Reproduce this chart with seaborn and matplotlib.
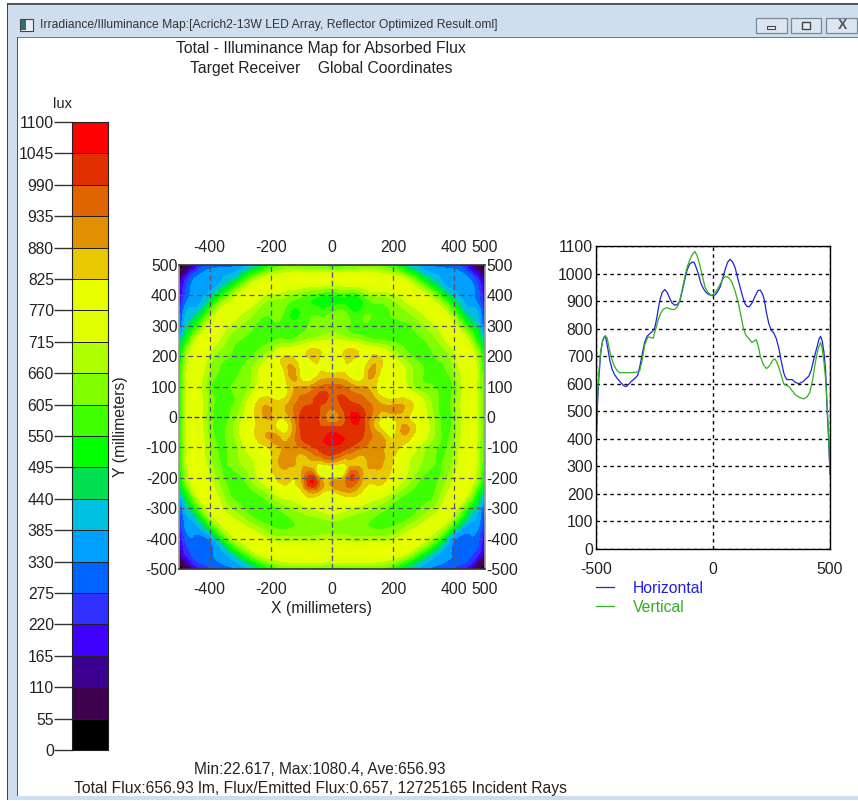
import numpy as np
import pandas as pd
import matplotlib
matplotlib.use("Agg")
import matplotlib.pyplot as plt
import matplotlib.tri as mtri
from matplotlib.colors import ListedColormap, BoundaryNorm
from matplotlib.patches import Rectangle
from matplotlib.transforms import ScaledTranslation
import seaborn as sns

# colour scale
scale_ticks = list(range(0, 1101, 55))
scale_colors = ["#000000", "#400050", "#3c0090", "#4000ff", "#3030ff", "#0064ff", "#00a0ff",
                "#00c0e0", "#00e050", "#00ff00", "#40ff00", "#80ff00", "#b0ff00", "#e0ff00",
                "#e8ff00", "#e8c800", "#e09000", "#e06400", "#e03000", "#ff0000"]

# map readings, top row first
map_x = [-500, -480, -450, -400, -350, -300, -250, -200, -150, -100, -50, 0, 50, 100, 150, 200, 250, 300, 350, 400, 450, 480, 500]
map_y = [500, 480, 450, 400, 350, 300, 250, 200, 150, 100, 50, 0, -50, -100, -150, -200, -250, -300, -350, -400, -450, -480, -500]
map_rows = [
    [25, 60, 150, 290, 300, 350, 420, 540, 600, 600, 580, 560, 580, 600, 600, 540, 420, 350, 300, 290, 150, 60, 25],
    [60, 110, 240, 340, 360, 400, 520, 640, 690, 700, 690, 680, 690, 700, 690, 640, 520, 400, 360, 340, 240, 110, 60],
    [110, 220, 340, 350, 400, 520, 700, 775, 770, 785, 780, 775, 780, 785, 770, 775, 700, 520, 400, 350, 340, 220, 110],
    [150, 280, 350, 410, 580, 750, 770, 700, 670, 620, 570, 550, 555, 600, 670, 700, 770, 750, 580, 410, 350, 280, 150],
    [200, 360, 400, 580, 760, 740, 670, 615, 590, 560, 580, 590, 580, 570, 590, 615, 670, 740, 760, 580, 400, 360, 200],
    [260, 420, 520, 750, 740, 660, 600, 585, 585, 590, 610, 630, 610, 590, 585, 585, 600, 660, 740, 750, 520, 420, 260],
    [420, 520, 700, 770, 670, 600, 585, 600, 620, 660, 710, 730, 710, 660, 620, 600, 585, 600, 670, 770, 700, 520, 420],
    [480, 640, 775, 700, 615, 585, 620, 720, 830, 800, 850, 775, 850, 800, 830, 720, 620, 585, 615, 700, 775, 640, 480],
    [520, 680, 770, 660, 590, 605, 690, 785, 850, 790, 810, 810, 810, 790, 850, 785, 690, 605, 590, 660, 770, 680, 520],
    [540, 680, 770, 620, 590, 620, 710, 790, 810, 880, 925, 950, 925, 880, 810, 790, 710, 620, 590, 620, 770, 680, 540],
    [550, 690, 775, 640, 590, 640, 810, 850, 860, 960, 1000, 960, 1000, 960, 880, 850, 840, 720, 600, 640, 775, 690, 550],
    [550, 690, 770, 630, 585, 690, 830, 880, 850, 1010, 1010, 900, 1015, 1015, 860, 840, 830, 740, 610, 630, 770, 690, 550],
    [550, 690, 775, 640, 600, 720, 830, 880, 820, 1000, 1020, 1045, 1030, 1000, 880, 800, 880, 760, 620, 640, 775, 690, 550],
    [540, 680, 775, 660, 600, 680, 780, 840, 890, 935, 1000, 1040, 1000, 935, 890, 850, 780, 680, 600, 660, 775, 680, 540],
    [520, 680, 775, 680, 600, 660, 720, 820, 900, 860, 850, 880, 850, 860, 900, 820, 720, 650, 600, 680, 775, 680, 520],
    [480, 640, 775, 720, 600, 590, 700, 790, 850, 880, 950, 840, 950, 880, 850, 790, 690, 590, 600, 720, 775, 640, 480],
    [420, 520, 700, 770, 640, 570, 600, 690, 770, 810, 870, 800, 870, 810, 770, 690, 600, 570, 640, 770, 700, 520, 420],
    [260, 400, 520, 750, 700, 620, 560, 580, 640, 690, 730, 740, 730, 690, 640, 580, 560, 620, 700, 750, 520, 400, 260],
    [200, 340, 380, 580, 750, 720, 640, 590, 590, 610, 625, 640, 625, 610, 590, 590, 640, 720, 750, 580, 380, 340, 200],
    [150, 280, 320, 345, 580, 750, 770, 700, 680, 680, 690, 700, 690, 680, 680, 700, 770, 750, 580, 345, 320, 280, 150],
    [110, 220, 290, 320, 380, 520, 700, 775, 785, 785, 775, 775, 775, 785, 785, 775, 700, 520, 380, 320, 290, 220, 110],
    [60, 110, 240, 300, 340, 400, 520, 640, 700, 710, 710, 700, 710, 710, 700, 640, 520, 400, 340, 300, 240, 110, 60],
    [25, 60, 150, 260, 290, 350, 420, 540, 600, 600, 580, 560, 580, 600, 600, 540, 420, 350, 290, 260, 150, 60, 25],
]
# extra readings for the small blobs
spot_x = [-25, 30, 75, -5, -135, 130, -70, 70, -130, 130, -35, 30, -70, 70, -210, 205, 235, -170, 170, -125, 85, -20, -25, 25, 0, 0, -175, 165]
spot_y = [60, 50, 0, -75, 145, 145, -185, -180, -140, -140, -190, -190, 215, 215, 0, 10, -40, -25, -30, 335, 355, 395, -25, -25, -25, 25, -70, -70]
spot_v = [1010, 1000, 1060, 1060, 900, 900, 960, 960, 900, 900, 770, 770, 850, 850, 885, 880, 900, 790, 790, 530, 530, 530, 970, 970, 960, 930, 890, 890]

# centre profiles
horiz_x = [-500, -498, -494, -488, -480, -472, -464, -458, -450, -440, -430, -420, -410, -395, -380, -371, -360, -350, -340, -330, -321, -312, -302, -292, -282, -270, -258, -249, -240, -228, -218, -206, -195, -185, -175, -163, -152, -142, -132, -120, -110, -99, -88, -80, -72, -63, -52, -41, -30, -20, -5, 8, 18, 30, 42, 52, 62, 73, 84, 95, 105, 116, 127, 137, 147, 156, 168, 180, 192, 202, 212, 219, 228, 238, 248, 259, 270, 281, 291, 302, 310, 317, 328, 338, 352, 367, 385, 400, 410, 420, 431, 445, 453, 460, 467, 474, 481, 488, 494, 500]
horiz_v = [270, 420, 520, 620, 710, 755, 772, 765, 730, 680, 650, 632, 620, 605, 592, 590, 598, 608, 615, 622, 632, 665, 710, 750, 772, 782, 790, 803, 840, 900, 930, 942, 930, 910, 893, 885, 888, 900, 935, 980, 1015, 1035, 1042, 1040, 1022, 1000, 965, 945, 932, 925, 920, 922, 932, 950, 985, 1015, 1040, 1052, 1042, 1020, 985, 950, 915, 890, 880, 880, 895, 918, 938, 940, 925, 905, 860, 820, 795, 785, 765, 730, 685, 640, 622, 615, 615, 615, 605, 600, 608, 620, 628, 650, 690, 735, 762, 772, 755, 715, 650, 500, 400, 270]
vert_x = [-500, -498, -494, -488, -480, -470, -460, -452, -444, -436, -425, -412, -400, -375, -350, -330, -314, -304, -292, -278, -266, -256, -246, -235, -224, -213, -202, -192, -178, -163, -152, -142, -132, -120, -110, -99, -88, -77, -68, -56, -45, -34, -20, -6, 8, 20, 30, 42, 54, 67, 80, 95, 109, 120, 130, 141, 152, 166, 176, 185, 194, 202, 215, 228, 236, 245, 255, 264, 272, 281, 292, 302, 312, 324, 338, 352, 370, 388, 402, 414, 426, 438, 450, 460, 467, 474, 481, 486, 494, 500]
vert_v = [270, 430, 540, 640, 720, 760, 775, 765, 730, 700, 670, 650, 640, 640, 640, 642, 645, 680, 740, 770, 768, 765, 795, 830, 855, 870, 875, 875, 870, 870, 880, 900, 940, 990, 1025, 1050, 1070, 1080, 1065, 1030, 990, 950, 930, 920, 930, 945, 960, 980, 990, 985, 970, 935, 890, 845, 800, 775, 765, 750, 755, 760, 735, 700, 670, 655, 660, 670, 685, 690, 680, 660, 630, 600, 595, 590, 575, 560, 550, 545, 552, 570, 615, 680, 730, 750, 725, 680, 620, 550, 420, 270]

map_ticks_x = [-400, -200, 0, 200, 400, 500]
map_ticks_y = [-500, -400, -300, -200, -100, 0, 100, 200, 300, 400, 500]

W, H = 858, 801
sns.set_style("white")
plt.rcParams["font.family"] = ["Liberation Sans", "DejaVu Sans"]
plt.rcParams["axes.unicode_minus"] = False
fig = plt.figure(figsize=(W / 100, H / 100), dpi=100, facecolor="white")


def axes_px(x0, y0, x1, y1):
    return fig.add_axes([x0 / W, 1 - y1 / H, (x1 - x0) / W, (y1 - y0) / H])


def box_px(x0, y0, x1, y1, **kw):
    fig.add_artist(Rectangle((x0 / W, 1 - y1 / H), (x1 - x0) / W, (y1 - y0) / H,
                             transform=fig.transFigure, zorder=-1, **kw))


def text_px(x, y, s, **kw):
    kw.setdefault("fontsize", 11.3)
    kw.setdefault("color", "#222222")
    kw.setdefault("ha", "center")
    fig.text(x / W, 1 - y / H, s, va="center", **kw)


# window frame
box_px(7, 4, W, 800, fc="#cfdeee", ec="none")
box_px(7, 3, W, 5, fc="#555555", ec="none")
box_px(7, 4, 8, 800, fc="#444444", ec="none")
box_px(18, 38, W, 796, fc="white", ec="none")
box_px(17, 37, W, 38, fc="#777777", ec="none")
box_px(17, 37, 18, 796, fc="#555555", ec="none")
box_px(20, 19, 33, 31, fc="#e8eef4", ec="#444444", lw=0.8)
box_px(21, 20, 26, 30, fc="#2f6f70", ec="none")
for bx0, bx1 in [(756, 787), (791, 821), (826, 857)]:
    box_px(bx0, 18, bx1, 33, fc="#dde6f0", ec="#7a8794", lw=0.9)
box_px(767, 26, 775, 29, fc="#e8eef4", ec="#444444", lw=0.8)
box_px(802, 22, 810, 29, fc="#e8eef4", ec="#444444", lw=1.0)
text_px(842, 25, "X", fontsize=10, color="#555555", fontweight="bold")
text_px(40, 25, "Irradiance/Illuminance Map:[Acrich2-13W LED Array, Reflector Optimized Result.oml]",
        ha="left", fontsize=8.7, color="#333333")

# headings and footer
text_px(321, 49, "Total - Illuminance Map for Absorbed Flux")
text_px(321, 68, "Target Receiver    Global Coordinates")
text_px(63, 104, "lux", fontsize=10.5)
text_px(320, 770, "Min:22.617, Max:1080.4, Ave:656.93", fontsize=11.2)
text_px(321, 788, "Total Flux:656.93 lm, Flux/Emitted Flux:0.657, 12725165 Incident Rays", fontsize=11.3)
text_px(120, 427, "Y (millimeters)", rotation=90)
text_px(321, 608, "X (millimeters)")

# colour scale
cmap = ListedColormap(scale_colors)
norm = BoundaryNorm(scale_ticks, cmap.N)
mids = [(a + b) / 2 for a, b in zip(scale_ticks[:-1], scale_ticks[1:])]
ax_scale = axes_px(72, 122, 108, 750)
sns.heatmap(pd.DataFrame({"lux": mids[::-1]}), ax=ax_scale, cmap=cmap, norm=norm, cbar=False,
            xticklabels=False, linewidths=0.5, linecolor="#222222")
ax_scale.set_yticks(range(len(scale_ticks)))
ax_scale.set_yticklabels([str(t) for t in scale_ticks[::-1]], rotation=0, fontsize=11.3, color="#222222")
ax_scale.tick_params(axis="y", left=True, length=13, width=1, color="#333333", pad=0)
ax_scale.set_ylabel("")
for lab in ax_scale.get_yticklabels():
    lab.set_transform(lab.get_transform() + ScaledTranslation(0, -1.5 / 100, fig.dpi_scale_trans))
for s in ax_scale.spines.values():
    s.set_visible(True)
    s.set_color("#222222")
    s.set_linewidth(0.8)

# illuminance map, x/y read at grid and blob positions
gx, gy = np.meshgrid(map_x, map_y)
px = np.concatenate([gx.ravel(), spot_x])
py = np.concatenate([gy.ravel(), spot_y])
pv = np.concatenate([np.array(map_rows, dtype=float).ravel(), spot_v])
tri = mtri.Triangulation(px, py)
fine_tri, fine_v = mtri.UniformTriRefiner(tri).refine_field(pv, subdiv=3)
fine_v = np.clip(fine_v, 1, 1099)

ax_map = axes_px(179, 265, 485, 569)
ax_map.tricontourf(fine_tri, fine_v, levels=scale_ticks, colors=scale_colors)
ax_map.set_xlim(-500, 500)
ax_map.set_ylim(-500, 500)
ax_map.set_xticks(map_ticks_x)
ax_map.set_yticks(map_ticks_y)
ax_map.set_xticks(range(-500, 501, 50), minor=True)
ax_map.set_yticks(range(-500, 501, 50), minor=True)
ax_map.tick_params(axis="y", which="major", length=0, left=True, right=True, labelleft=True, labelright=True,
                   labelsize=11.3, labelcolor="#222222", pad=1)
ax_map.tick_params(axis="x", which="major", length=0, bottom=True, top=False, labelbottom=True, labeltop=False,
                   labelsize=11.3, labelcolor="#222222", pad=9)
ax_map.tick_params(which="minor", direction="in", length=1.5, width=0.8, color="#40a040",
                   bottom=True, top=True, left=True, right=True)
ax_top = ax_map.secondary_xaxis("top")
ax_top.set_xticks(map_ticks_x)
ax_top.tick_params(axis="x", length=0, labelsize=11.3, labelcolor="#222222", pad=7)
ax_top.spines["top"].set_visible(False)
for v in map_ticks_x[:-1]:
    if v != 0:
        ax_map.axvline(v, color="#555566", lw=0.9, ls=(0, (4, 3)))
for v in map_ticks_y[1:-1]:
    if v != 0:
        ax_map.axhline(v, color="#555566", lw=0.9, ls=(0, (4, 3)))
ax_map.axvline(0, color="#5a5a90", lw=1.0, ls=(0, (4, 2)))
ax_map.axhline(0, color="#2020e0", lw=0.9, ls=(0, (4, 2)))
for side, s in ax_map.spines.items():
    s.set_color("#333333" if side in ("top", "bottom") else "#999999")
    s.set_linewidth(1.2)

# profiles
profiles = pd.concat([
    pd.DataFrame({"x": horiz_x, "lux": horiz_v, "line": "Horizontal"}),
    pd.DataFrame({"x": vert_x, "lux": vert_v, "line": "Vertical"}),
])
ax_line = axes_px(596, 246, 830, 549)
sns.lineplot(data=profiles, x="x", y="lux", hue="line", palette=["#2020e0", "#30b020"],
             estimator=None, sort=False, lw=0.9, ax=ax_line)
ax_line.set_xlim(-500, 500)
ax_line.set_ylim(0, 1100)
ax_line.set_xticks([-500, 0, 500])
ax_line.set_yticks(range(0, 1101, 100))
ax_line.set_xlabel("")
ax_line.set_ylabel("")
ax_line.tick_params(labelsize=11.3, labelcolor="#222222", pad=2, length=0)
ax_line.tick_params(axis="x", pad=9)
ax_line.grid(True, color="black", lw=1, ls=(0, (2.5, 2.5)))
ax_line.set_axisbelow(True)
for s in ax_line.spines.values():
    s.set_color("black")
    s.set_linewidth(1)
ax_line.legend(frameon=False, loc="upper left", bbox_to_anchor=(0.0, -0.105), borderaxespad=0,
               labelcolor=["#2020e0", "#30b020"], fontsize=11.3, handlelength=1.15, handletextpad=1.2,
               labelspacing=0.25, borderpad=0)

fig.savefig("out.png", dpi=100)
